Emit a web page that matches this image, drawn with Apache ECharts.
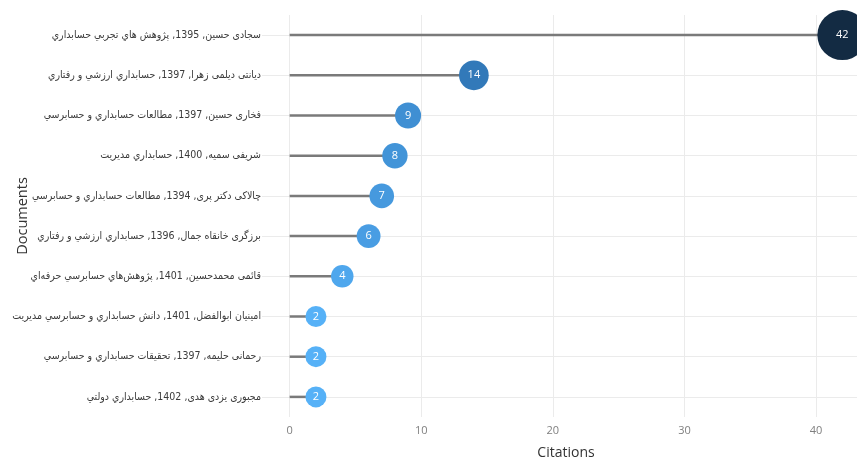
<!DOCTYPE html>
<html>
<head>
<meta charset="utf-8">
<script src="https://cdn.jsdelivr.net/npm/echarts@6/dist/echarts.min.js"></script>
<style>
html,body{margin:0;padding:0;background:#fff;}
#c{width:857px;height:461px;}
</style>
</head>
<body>
<div id="c"></div>
<script>
const documents = [
  "سجادی حسین, 1395, پژوهش هاي تجربي حسابداري",
  "دیانتی دیلمی زهرا, 1397, حسابداري ارزشي و رفتاري",
  "فخاری حسین, 1397, مطالعات حسابداري و حسابرسي",
  "شریفی سمیه, 1400, حسابداري مديريت",
  "چالاکی دکتر پری, 1394, مطالعات حسابداري و حسابرسي",
  "برزگری خانقاه جمال, 1396, حسابداري ارزشي و رفتاري",
  "قائمی محمدحسین, 1401, پژوهش‌هاي حسابرسي حرفه‌اي",
  "امینیان ابوالفضل, 1401, دانش حسابداري و حسابرسي مديريت",
  "رحمانی حلیمه, 1397, تحقيقات حسابداري و حسابرسي",
  "مجبوری یزدی هدی, 1402, حسابداري دولتي"
];
const citations = [42, 14, 9, 8, 7, 6, 4, 2, 2, 2];
const xTicks = [0, 10, 20, 30, 40];

const chart = echarts.init(document.getElementById('c'), null, {renderer: 'canvas'});
const pointData = citations.map((v, i) => [v, documents[i]]);

chart.setOption({
  animation: false,
  backgroundColor: '#ffffff',
  grid: {left: 262, right: -13, top: 15, bottom: 44, containLabel: false, outerBoundsMode: 'none'},
  xAxis: {
    type: 'value',
    min: -2.1,
    max: 44.1,
    splitNumber: 5,
    name: 'Citations',
    nameLocation: 'middle',
    nameGap: 29,
    nameMoveOverlap: false,
    nameTextStyle: {fontFamily: 'Open Sans', fontSize: 14, color: '#333333'},
    axisLine: {show: false},
    axisTick: {show: false},
    axisLabel: {
      fontFamily: 'Open Sans', fontSize: 11, color: '#7f7f7f', margin: 8,
      showMinLabel: false, showMaxLabel: false,
      formatter: v => (xTicks.indexOf(v) >= 0 ? String(v) : '')
    },
    splitLine: {show: true, showMinLine: false, showMaxLine: false, lineStyle: {color: '#ebebeb', width: 1}}
  },
  yAxis: {
    type: 'category',
    data: documents,
    inverse: true,
    name: 'Documents',
    nameLocation: 'middle',
    nameGap: 232,
    nameRotate: 90,
    nameMoveOverlap: false,
    nameTextStyle: {fontFamily: 'Open Sans', fontSize: 14.5, color: '#333333'},
    axisLine: {show: false},
    axisTick: {show: false},
    axisLabel: {fontFamily: '"DejaVu Sans Condensed", "DejaVu Sans"', fontSize: 10.5, color: '#3a3a3a', margin: 1},
    splitLine: {show: true, alignWithLabel: true, lineStyle: {color: '#ebebeb', width: 1}}
  },
  visualMap: {
    show: false,
    type: 'continuous',
    seriesIndex: 1,
    dimension: 0,
    min: 2,
    max: 42,
    inRange: {
      color: ['#56B1F7', '#3580c4', '#275c8e', '#1c4367', '#132B43'],
      symbolSize: [21, 50]
    }
  },
  series: [
    {
      type: 'bar',
      data: citations,
      barWidth: 2.5,
      itemStyle: {color: '#7a7a7a'},
      z: 1,
      silent: true
    },
    {
      type: 'scatter',
      data: pointData,
      symbol: 'circle',
      clip: false,
      z: 3,
      label: {
        show: true,
        position: 'inside',
        formatter: p => String(p.value[0]),
        color: '#ffffff',
        fontFamily: 'Open Sans',
        fontSize: 11
      },
      itemStyle: {opacity: 1}
    }
  ]
});
</script>
</body>
</html>
